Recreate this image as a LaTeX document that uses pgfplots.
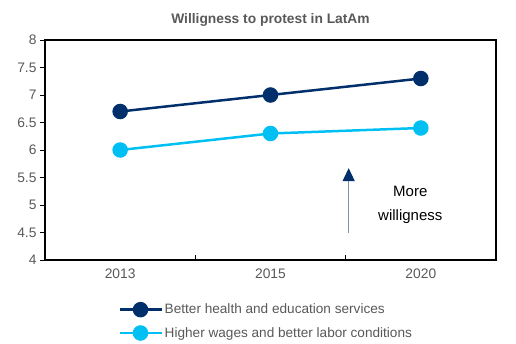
\documentclass[border=0pt]{standalone}
\usepackage{pgfplots}
\pgfplotsset{compat=1.18}
\usetikzlibrary{arrows.meta}
\usepackage{fontspec}
\setmainfont{Liberation Sans}
\definecolor{navy}{HTML}{002F6C}
\definecolor{lblue}{HTML}{00C0F3}
\definecolor{txtgray}{HTML}{595959}
\definecolor{arrowgray}{HTML}{7F93B5}
\begin{document}
\begin{tikzpicture}
\path[use as bounding box] (-45bp,-84bp) rectangle (471bp,260bp);
\begin{axis}[
  scale only axis,
  width=451bp, height=220bp,
  xmin=-0.5, xmax=2.5, ymin=4, ymax=8,
  xtick={0,1,2}, xticklabels={2013,2015,2020},
  major x tick style={draw=none},
  minor xtick={0.5,1.5},
  minor tick length=5bp,
  xtick pos=bottom,
  ytick={4,4.5,...,8},
  ytick pos=left,
  ytick align=outside,
  major tick length=5bp,
  yticklabel style={/pgf/number format/fixed, /pgf/number format/precision=1},
  /pgf/number format/assume math mode=true,
  tick label style={font=\fontsize{13.8bp}{15bp}\selectfont, text=txtgray},
  tick style={black, line width=1pt},
  axis line style={line width=1.2pt},
  xticklabel style={yshift=-5bp},
  title={\bfseries Willigness to protest in LatAm},
  title style={font=\fontsize{13.8bp}{15bp}\selectfont, text=txtgray, yshift=4bp},
  legend style={draw=none, at={(0.162,-0.19)}, anchor=north west,
    font=\fontsize{13.6bp}{15bp}\selectfont, text=txtgray,
    row sep=8bp, inner sep=0pt},
  legend cell align=left,
  legend image code/.code={\draw[mark repeat=2,mark phase=2] plot coordinates {(0bp,0bp)(21bp,0bp)(42bp,0bp)};},
  clip=false,
]
\addplot[navy, line width=2.5pt, mark=*, mark size=6.5bp, mark options={fill=navy, draw=none}] coordinates {(0,6.7) (1,7.0) (2,7.3)};
\addlegendentry{Better health and education services}
\addplot[lblue, line width=2.5pt, mark=*, mark size=6.5bp, mark options={fill=lblue, draw=none}] coordinates {(0,6.0) (1,6.3) (2,6.4)};
\addlegendentry{Higher wages and better labor conditions}
\draw[arrowgray, line width=1.5pt, -{Triangle[width=12bp,length=13bp,color=navy]}] (axis cs:1.52,4.5) -- (axis cs:1.52,5.67);
\node[align=center, font=\fontsize{15bp}{24bp}\selectfont, text=black] at (axis cs:1.93,5.0) {More\\willigness};
\end{axis}
\end{tikzpicture}
\end{document}
